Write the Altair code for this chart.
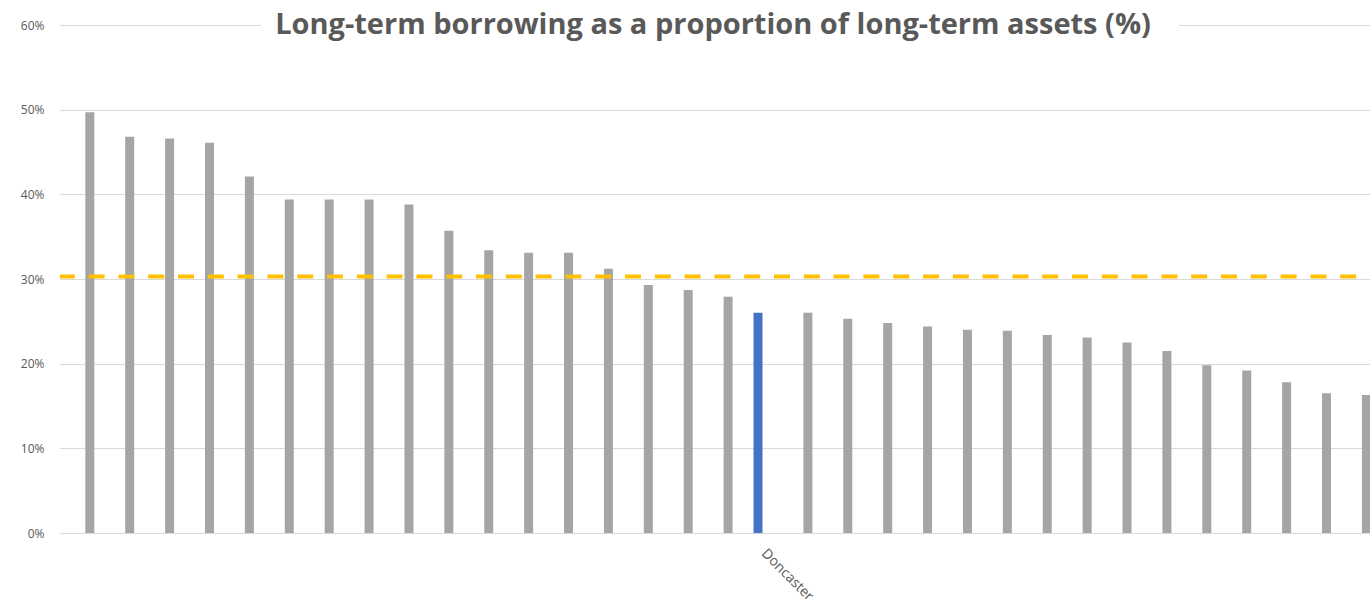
import altair as alt
import pandas as pd

# Values (% of long-term assets), ranked high to low
values = [49.7, 46.8, 46.6, 46.1, 42.1, 39.4, 39.4, 39.4, 38.8, 35.7,
          33.4, 33.1, 33.1, 31.2, 29.3, 28.7, 27.9, 26.0,
          26.0, 25.3, 24.8, 24.4, 24.0, 23.9, 23.4, 23.1, 22.5, 21.5,
          19.8, 19.2, 17.8, 16.5, 16.3]
# Only Doncaster is labelled in the original
councils = [""] * 17 + ["Doncaster"] + [""] * 15
highlight = "Doncaster"
average = 30.3
y_ticks = [0, 10, 20, 30, 40, 50, 60]
title_text = "Long-term borrowing as a proportion of long-term assets (%)"

df = pd.DataFrame({
    "rank": list(range(len(values))),
    "council": councils,
    "value": values,
    "is_hl": [c == highlight for c in councils],
})
avg_df = pd.DataFrame({"avg": [average]})
hl_idx = councils.index(highlight)

FONT = "Open Sans"
GREY_TXT = "#595959"

x_enc = alt.X(
    "rank:Q",
    scale=alt.Scale(domain=[-0.622, 31.965], nice=False, zero=False),
    axis=alt.Axis(
        values=[hl_idx],
        labelExpr=f"datum.value == {hl_idx} ? '{highlight}' : ''",
        title=None, grid=False, domain=False, ticks=False,
        labelAngle=45, labelAlign="left", labelBaseline="top",
        labelPadding=13, labelFontSize=14, labelColor=GREY_TXT,
        labelFont=FONT, labelFlush=False, labelOverlap=False,
    ),
)
y_enc = alt.Y(
    "value:Q",
    scale=alt.Scale(domain=[0, 60], nice=False),
    axis=alt.Axis(
        values=y_ticks, labelExpr="datum.value + '%'",
        title=None, domain=False, ticks=False,
        gridColor="#d9d9d9", gridWidth=1,
        labelPadding=16, labelFontSize=12, labelColor=GREY_TXT, labelFont=FONT,
    ),
)

base = alt.Chart(df)

grey = base.transform_filter("!datum.is_hl").mark_bar(
    size=9, color="#A5A5A5", clip=True
).encode(x=x_enc, y=y_enc)

blue = base.transform_filter("datum.is_hl").mark_bar(
    size=9, color="#4472C4", xOffset=-10
).encode(x="rank:Q", y="value:Q")

avg_rule = alt.Chart(avg_df).mark_rule(
    color="#FFC000", strokeWidth=4, strokeDash=[16, 13.8], strokeDashOffset=16
).encode(y="avg:Q")

title_bg = alt.Chart(avg_df).mark_rect(color="white").encode(
    x=alt.value(201), x2=alt.value(1119), y=alt.value(-3), y2=alt.value(3)
)

title = alt.Chart(avg_df).mark_text(
    font=FONT, fontWeight="bold", fontSize=29, color=GREY_TXT,
    align="center", baseline="alphabetic"
).encode(x=alt.value(653), y=alt.value(8.5), text=alt.value(title_text))

chart = alt.layer(grey, blue, avg_rule, title_bg, title).properties(
    width=1310, height=508,
    padding={"left": 60, "top": 25, "right": 0, "bottom": 69},
    autosize=alt.AutoSizeParams(type="none"),
    background="white",
).configure_view(stroke=None)

chart.save("out.html", embed_options={"renderer": "svg", "actions": False})
